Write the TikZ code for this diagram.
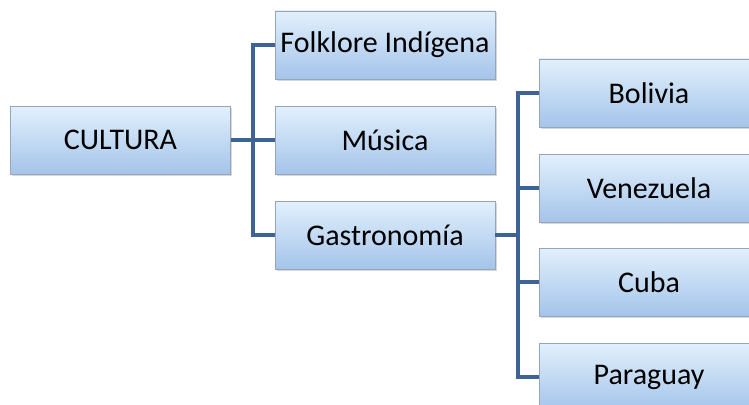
\documentclass[tikz,border=0pt]{standalone}
\usepackage{fontspec}
\setmainfont{Carlito}
\usetikzlibrary{shadows}
\definecolor{boxtop}{RGB}{226,240,252}
\definecolor{boxbot}{RGB}{164,196,234}
\definecolor{boxline}{RGB}{150,165,185}
\definecolor{conncol}{RGB}{62,100,150}
\tikzset{
  box/.style={draw=boxline, line width=0.8pt, top color=boxtop, bottom color=boxbot,
    minimum width=220pt, minimum height=68pt, inner sep=0pt,
    font=\fontsize{30}{33}\selectfont,
    drop shadow={shadow xshift=1.5pt, shadow yshift=-1.5pt, opacity=0.25, fill=black!60}},
  conn/.style={draw=conncol, line width=3.2pt}
}
\begin{document}
\begin{tikzpicture}[x=1pt,y=-1pt]
\useasboundingbox (0,0) rectangle (749,404);
\clip (0,0) rectangle (749,404);
\fill[white] (0,0) rectangle (749,404);
\node[box] (cult) at (120.5,140) {CULTURA};
\node[box] (folk) at (385,45) {Folklore Indígena};
\node[box] (mus) at (385,140) {Música};
\node[box] (gast) at (385,235) {Gastronomía};
\node[box] (bol) at (649,93) {Bolivia};
\node[box] (ven) at (649,188) {Venezuela};
\node[box] (cuba) at (649,282) {Cuba};
\node[box] (par) at (649,377) {Paraguay};
\coordinate (j1) at (253,140);
\coordinate (j2) at (518,235);
\draw[conn] (cult.east) -- (j1);
\draw[conn] (j1) |- (folk.west);
\draw[conn] (j1) -- (mus.west);
\draw[conn] (j1) |- (gast.west);
\draw[conn] (gast.east) -- (j2);
\draw[conn] (j2) |- (bol.west);
\draw[conn] (j2) |- (ven.west);
\draw[conn] (j2) |- (cuba.west);
\draw[conn] (j2) |- (par.west);
\end{tikzpicture}
\end{document}
